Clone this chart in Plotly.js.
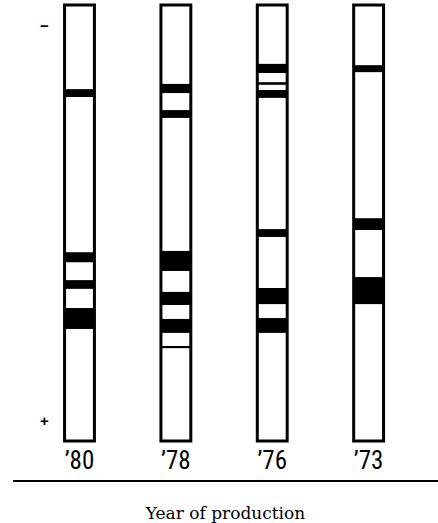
<!DOCTYPE html>
<html>
<head>
<meta charset="utf-8">
<script src="https://cdn.plot.ly/plotly-3.0.1.min.js"></script>
<style>
  html, body { margin: 0; padding: 0; background: #ffffff; }
  #chart { width: 438px; height: 523px; }
</style>
</head>
<body>
<div id="chart"></div>
<script>
// Electrophoresis lanes by year of production (migration from "−" at top to "+" at bottom)
const lanes = ["’80", "’78", "’76", "’73"];
const laneLength = [100, 100, 100, 100];

// Stained bands: lane, start and end of each band along the gel (0 = origin, 100 = end)
const bandLane = [
  "’80", "’80", "’80", "’80",
  "’78", "’78", "’78", "’78", "’78", "’78",
  "’76", "’76", "’76", "’76", "’76", "’76",
  "’73", "’73", "’73"
];
const bandStart = [
  19.3, 56.7, 63.1, 69.5,
  18.1, 24.1, 56.4, 65.8, 72.0, 78.2,
  13.5, 17.7, 19.5, 51.4, 64.9, 71.8,
  13.8, 48.9, 62.4
];
const bandEnd = [
  21.1, 59.0, 65.1, 74.3,
  20.2, 25.9, 61.0, 68.8, 75.2, 78.7,
  15.6, 18.3, 21.3, 53.2, 68.6, 75.2,
  15.4, 51.6, 68.6
];

// Electrode marks
const electrodeText = ["−", "+"];
const electrodePos = [4.8, 95.4];

// Row in which the year labels sit, just above the baseline
const labelRow = [105.0, 105.0, 105.0, 105.0];

const bandHeight = bandEnd.map((e, i) => e - bandStart[i]);

const laneWidth = 0.31;

const traces = [
  {
    type: "bar",
    x: lanes,
    y: laneLength,
    base: laneLength.map(() => 0),
    width: laneWidth,
    marker: { color: "#ffffff", line: { color: "#000000", width: 3 } },
    hoverinfo: "skip"
  },
  {
    type: "bar",
    x: bandLane,
    y: bandHeight,
    base: bandStart,
    width: laneWidth,
    marker: { color: "#000000", line: { width: 0 } },
    hoverinfo: "skip"
  },
  {
    type: "scatter",
    mode: "text",
    x: lanes,
    y: labelRow,
    text: lanes,
    textposition: "middle center",
    textfont: { family: "Liberation Sans Narrow, Roboto Condensed, DejaVu Sans Condensed, Arial, sans-serif", size: 25, color: "#000000" },
    cliponaxis: false,
    hoverinfo: "skip"
  }
];

const annotations = electrodeText.map((t, i) => ({
  xref: "paper", yref: "y",
  x: 0.075, y: electrodePos[i],
  text: "<b>" + t + "</b>",
  showarrow: false,
  font: { family: "Liberation Sans, Arial, sans-serif", size: 15, color: "#000000" },
  xanchor: "center", yanchor: "middle"
}));

const layout = {
  width: 438,
  height: 523,
  margin: { l: 13, r: 0, t: 0, b: 43 },
  paper_bgcolor: "#ffffff",
  plot_bgcolor: "#ffffff",
  showlegend: false,
  barmode: "overlay",
  xaxis: {
    type: "category",
    range: [-0.69, 3.72],
    showline: true,
    linecolor: "#000000",
    linewidth: 2,
    showgrid: false,
    zeroline: false,
    ticks: "",
    showticklabels: false,
    title: {
      text: "Year of production",
      font: { family: "DejaVu Serif, Liberation Serif, serif", size: 17, color: "#000000" },
      standoff: 26
    }
  },
  yaxis: {
    range: [108.94, -1.147],
    visible: false,
    showgrid: false,
    zeroline: false
  },
  annotations: annotations
};

Plotly.newPlot("chart", traces, layout, { displayModeBar: false, staticPlot: true });
</script>
</body>
</html>
